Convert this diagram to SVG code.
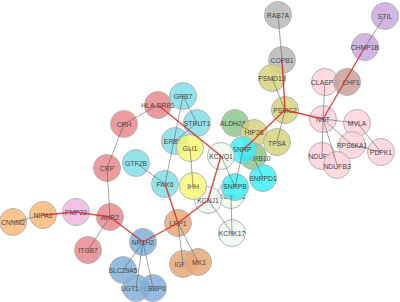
<svg xmlns="http://www.w3.org/2000/svg" width="400" height="302" viewBox="0 0 400 302">
<style>
.n circle{stroke:#b4b4b4;stroke-width:1;fill-opacity:0.85}
.n text{font-family:"Liberation Sans",Arial,sans-serif;font-size:6.8px;fill:#444;text-anchor:middle;dominant-baseline:central}
.e line{stroke:#5a5a5a;stroke-width:0.7;stroke-opacity:0.8}
.e line.r{stroke:#d82828;stroke-width:1.4;stroke-opacity:0.85}
.red{fill:#e88a8c}.cy{fill:#80dee8}.bc{fill:#40eef4}.ye{fill:#f8f878}.ol{fill:#d6d47c}.gr{fill:#8cc88c}.gy{fill:#b8b8b8}.pk{fill:#ffd2dc}.br{fill:#c9a09a}.pu{fill:#c8a8e0}.or{fill:#fcb878}.pv{fill:#f0b8e2}.bl{fill:#80b0d8}.ob{fill:#e8a878}.wh{fill:#f0f8f0}
</style>
<rect width="400" height="302" fill="#fff"/>
<g id="nodes">
<g id="STIL" class="n"><circle class="pu" cx="385" cy="16" r="13.5"/><text x="385" y="16">STIL</text></g>
<g id="CHMP1B" class="n"><circle class="pu" cx="365" cy="47" r="13.5"/><text x="365" y="47">CHMP1B</text></g>
<g id="RAB7A" class="n"><circle class="gy" cx="278" cy="15" r="13.5"/><text x="278" y="15">RAB7A</text></g>
<g id="COPB1" class="n"><circle class="gy" cx="282" cy="60" r="13.5"/><text x="282" y="60">COPB1</text></g>
<g id="PSMD13" class="n"><circle class="ol" cx="272" cy="78" r="13.5"/><text x="272" y="78">PSMD13</text></g>
<g id="PSMC2" class="n"><circle class="ol" cx="285" cy="110" r="13.5"/><text x="285" y="110">PSMC2</text></g>
<g id="CLASP2" class="n"><circle class="pk" cx="325" cy="82" r="13.5"/><text x="324" y="82">CLASP2</text></g>
<g id="CHF1" class="n"><circle class="br" cx="347" cy="82" r="13.5"/><text x="351" y="82">CHF1</text></g>
<g id="NNT" class="n"><circle class="pk" cx="323" cy="119" r="13.5"/><text x="323" y="119">NNT</text></g>
<g id="MVLA" class="n"><circle class="pk" cx="357" cy="123" r="13.5"/><text x="357" y="123">MVLA</text></g>
<g id="RPS6KA1" class="n"><circle class="pk" cx="352" cy="145" r="13.5"/><text x="352" y="145">RPS6KA1</text></g>
<g id="PDPK1" class="n"><circle class="pk" cx="381" cy="152" r="13.5"/><text x="381" y="152">PDPK1</text></g>
<g id="NDUFV1" class="n"><circle class="pk" cx="322" cy="156" r="13.5"/><text x="322" y="156">NDUFV1</text></g>
<g id="NDUFB3" class="n"><circle class="pk" cx="337" cy="165" r="13.5"/><text x="337" y="166">NDUFB3</text></g>
<g id="ALDH7A1" class="n"><circle class="gr" cx="235" cy="123" r="13.5"/><text x="235" y="123">ALDH7A1</text></g>
<g id="HIP26" class="n"><circle class="ol" cx="254" cy="133" r="13.5"/><text x="254" y="132">HIP26</text></g>
<g id="TPSA" class="n"><circle class="ol" cx="277" cy="142" r="13.5"/><text x="277" y="143">TPSA</text></g>
<g id="MKI" class="n"><circle class="gr" cx="253" cy="156" r="13.5"/><text x="257" y="158">MKRB10</text></g>
<g id="SNRP" class="n"><circle class="bc" cx="243" cy="150" r="13.5"/><text x="242" y="149">SNRP</text></g>
<g id="SNRPD1" class="n"><circle class="bc" cx="263" cy="178" r="13.5"/><text x="263" y="178">SNRPD1</text></g>
<g id="KCNK16" class="n"><circle class="wh" cx="231" cy="195" r="13.5"/><text x="232" y="196">KCNK16</text></g>
<g id="SNRPB" class="n"><circle class="bc" cx="235" cy="187" r="13.5"/><text x="235" y="186">SNRPB</text></g>
<g id="KCNK17" class="n"><circle class="wh" cx="232" cy="233" r="13.5"/><text x="232" y="233">KCNK17</text></g>
<g id="KCNQ1" class="n"><circle class="wh" cx="221" cy="156" r="13.5"/><text x="221" y="156">KCNQ1</text></g>
<g id="KCNJ1" class="n"><circle class="wh" cx="208" cy="200" r="13.5"/><text x="208" y="200">KCNJ1</text></g>
<g id="GRB7" class="n"><circle class="cy" cx="183" cy="96" r="13.5"/><text x="183" y="96">GRB7</text></g>
<g id="STRUT1" class="n"><circle class="cy" cx="197" cy="123" r="13.5"/><text x="197" y="123">STRUT1</text></g>
<g id="ERBB2" class="n"><circle class="cy" cx="175" cy="141" r="13.5"/><text x="175" y="141">ERBB2</text></g>
<g id="GLI1" class="n"><circle class="ye" cx="190" cy="148" r="13.5"/><text x="190" y="148">GLI1</text></g>
<g id="IHH" class="n"><circle class="ye" cx="193" cy="186" r="13.5"/><text x="193" y="186">IHH</text></g>
<g id="PAX" class="n"><circle class="cy" cx="165" cy="184" r="13.5"/><text x="165" y="184">PAX6</text></g>
<g id="GTF2B" class="n"><circle class="cy" cx="136" cy="163" r="13.5"/><text x="136" y="163">GTF2B</text></g>
<g id="HLA-DRB1" class="n"><circle class="red" cx="158" cy="105" r="13.5"/><text x="158" y="105">HLA-DRB1</text></g>
<g id="CRH" class="n"><circle class="red" cx="124" cy="124" r="13.5"/><text x="124" y="124">CRH</text></g>
<g id="CRP" class="n"><circle class="red" cx="107" cy="168" r="13.5"/><text x="107" y="168">CRP</text></g>
<g id="AHR" class="n"><circle class="red" cx="110" cy="217" r="13.5"/><text x="110" y="217">AHR2</text></g>
<g id="ITGB7" class="n"><circle class="red" cx="88" cy="250" r="13.5"/><text x="88" y="250">ITGB7</text></g>
<g id="PMP22" class="n"><circle class="pv" cx="76" cy="212" r="13.5"/><text x="76" y="212">PMP22</text></g>
<g id="NIPA1" class="n"><circle class="or" cx="43" cy="215" r="13.5"/><text x="43" y="215">NIPA1</text></g>
<g id="CNNM2" class="n"><circle class="or" cx="13" cy="222" r="13.5"/><text x="13" y="222">CNNM2</text></g>
<g id="NR1I2" class="n"><circle class="bl" cx="143" cy="242" r="13.5"/><text x="143" y="242">NR1H2</text></g>
<g id="SLC" class="n"><circle class="bl" cx="123" cy="270" r="13.5"/><text x="123" y="270">SLC29A5</text></g>
<g id="UGT1A8" class="n"><circle class="bl" cx="136" cy="288" r="13.5"/><text x="134" y="288">UGT1A8</text></g>
<g id="ABCB6" class="n"><circle class="bl" cx="153" cy="288" r="13.5"/><text x="157" y="288">BBP6</text></g>
<g id="LRP1" class="n"><circle class="ob" cx="178" cy="223" r="13.5"/><text x="178" y="223">LRP1</text></g>
<g id="IGF1" class="n"><circle class="ob" cx="183" cy="264" r="13.5"/><text x="182" y="264">IGF1</text></g>
<g id="MK1" class="n"><circle class="ob" cx="198" cy="262" r="13.5"/><text x="199" y="262">MK1</text></g>
</g>
<g id="connectors" class="e">
<line x1="385" y1="16" x2="365" y2="47"/>
<line class="r" x1="365" y1="47" x2="323" y2="119"/>
<line x1="278" y1="15" x2="282" y2="60"/>
<line class="r" x1="282" y1="60" x2="285" y2="110"/>
<line x1="272" y1="78" x2="285" y2="110"/>
<line class="r" x1="285" y1="110" x2="323" y2="119"/>
<line x1="285" y1="110" x2="277" y2="142"/>
<line class="r" x1="285" y1="110" x2="243" y2="150"/>
<line x1="325" y1="82" x2="323" y2="119"/>
<line x1="323" y1="119" x2="357" y2="123"/>
<line x1="323" y1="119" x2="352" y2="145"/>
<line x1="323" y1="119" x2="322" y2="156"/>
<line x1="323" y1="119" x2="337" y2="165"/>
<line x1="357" y1="123" x2="381" y2="152"/>
<line x1="352" y1="145" x2="381" y2="152"/>
<line x1="235" y1="123" x2="254" y2="133"/>
<line x1="243" y1="150" x2="235" y2="187"/>
<line x1="253" y1="156" x2="263" y2="178"/>
<line x1="221" y1="156" x2="235" y2="187"/>
<line class="r" x1="158" y1="105" x2="221" y2="156"/>
<line class="r" x1="221" y1="156" x2="208" y2="200"/>
<line class="r" x1="208" y1="200" x2="178" y2="223"/>
<line class="r" x1="178" y1="223" x2="143" y2="242"/>
<line class="r" x1="165" y1="184" x2="178" y2="223"/>
<line class="r" x1="143" y1="242" x2="110" y2="217"/>
<line class="r" x1="110" y1="217" x2="76" y2="212"/>
<line class="r" x1="76" y1="212" x2="43" y2="215"/>
<line x1="43" y1="215" x2="13" y2="222"/>
<line x1="110" y1="217" x2="88" y2="250"/>
<line x1="107" y1="168" x2="110" y2="217"/>
<line x1="124" y1="124" x2="107" y2="168"/>
<line x1="124" y1="124" x2="158" y2="105"/>
<line x1="183" y1="96" x2="165" y2="184"/>
<line x1="183" y1="96" x2="197" y2="123"/>
<line x1="197" y1="123" x2="175" y2="141"/>
<line x1="190" y1="148" x2="193" y2="186"/>
<line x1="136" y1="163" x2="165" y2="184"/>
<line x1="143" y1="242" x2="123" y2="270"/>
<line x1="143" y1="242" x2="136" y2="288"/>
<line x1="143" y1="242" x2="153" y2="288"/>
<line x1="178" y1="223" x2="183" y2="264"/>
<line x1="178" y1="223" x2="198" y2="262"/>
<line x1="208" y1="200" x2="232" y2="233"/>
<line x1="231" y1="195" x2="232" y2="233"/>
</g>
</svg>
